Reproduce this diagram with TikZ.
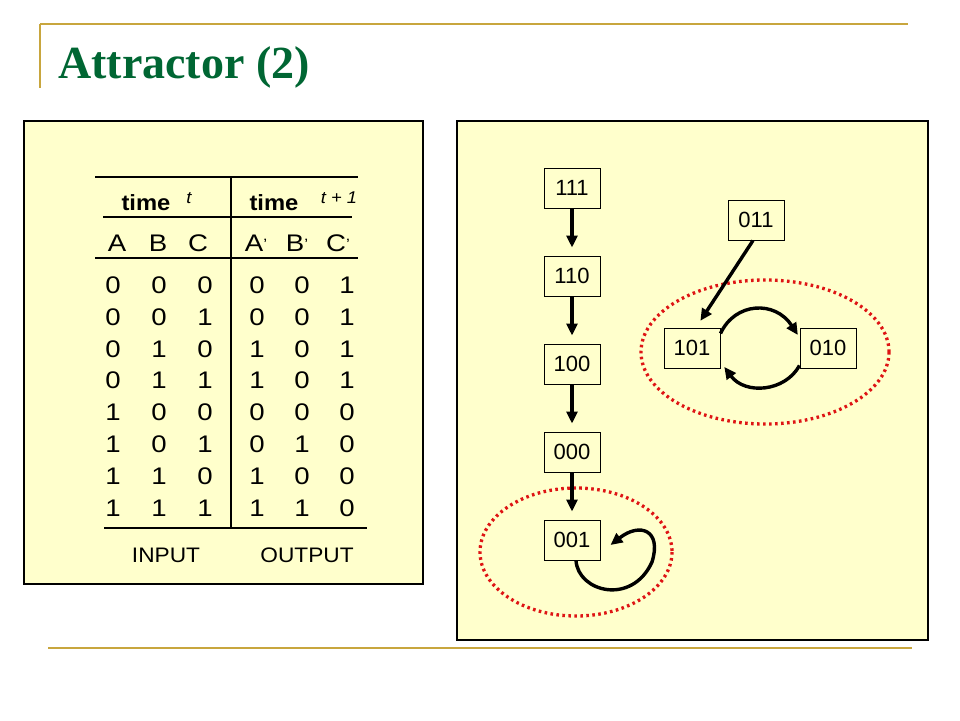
\documentclass[tikz,border=0pt]{standalone}
\usepackage{fontspec}
\setmainfont{Liberation Serif}
\setsansfont{Liberation Sans}
\newfontfamily\tabfont[FakeStretch=1.15]{Liberation Sans}
\newfontfamily\hdfont[FakeStretch=1.08]{Liberation Sans}
\usetikzlibrary{arrows.meta}
\definecolor{gold}{RGB}{200,166,62}
\definecolor{titlegreen}{RGB}{0,102,51}
\definecolor{panel}{RGB}{255,255,204}
\definecolor{dotred}{RGB}{222,20,20}
\newcommand{\pr}{{\fontsize{15}{15}\selectfont\raisebox{1.5pt}{\textquoteright}}}
\tikzset{
  goldline/.style={gold, line width=2.6pt},
  panelbox/.style={draw=black, fill=panel, line width=1.1pt},
  tabtxt/.style={font=\tabfont\fontsize{24}{24}\selectfont, anchor=base, inner sep=0pt},
  headtxt/.style={font=\hdfont\bfseries\fontsize{22}{22}\selectfont, anchor=base, inner sep=0pt},
  ittxt/.style={font=\hdfont\itshape\fontsize{17}{17}\selectfont, anchor=base, inner sep=0pt},
  iotxt/.style={font=\hdfont\fontsize{21}{21}\selectfont, anchor=base, inner sep=0pt},
  tabline/.style={line width=2pt},
  state/.style={draw=black, line width=1pt, minimum width=56pt, minimum height=40pt, inner sep=0pt, font=\sffamily\fontsize{22}{22}\selectfont},
  arr/.style={line width=3.4pt, -{Triangle[length=12pt,width=11pt]}},
  attr/.style={dotred, line width=3.3pt, dash pattern=on 2.6pt off 3.4pt},
}
\begin{document}
\begin{tikzpicture}[x=1pt,y=-1pt]
\useasboundingbox (0,0) rectangle (960,720);
% title decoration
\draw[goldline] (40,24) -- (908,24);
\draw[gold, line width=1.6pt] (40,24) -- (40,88);
\draw[goldline] (48,648) -- (912,648);
\node[anchor=base west, inner sep=0pt, text=titlegreen, font=\bfseries\fontsize{46}{46}\selectfont] (title) at (58,78) {Attractor (2)};
% panels
\draw[panelbox] (24,121) rectangle (423,584);
\draw[panelbox] (457,121) rectangle (928,640);
% table lines
\draw[tabline] (95,177) -- (358,177);
\draw[line width=1.4pt] (103,217) -- (352,217);
\draw[tabline] (95,258) -- (358,258);
\draw[tabline] (104,528) -- (367,528);
\draw[tabline] (231,177) -- (231,528);
% header
\node[headtxt] (h1) at (146,210) {time};
\node[ittxt] (h1t) at (189,203) {t};
\node[headtxt] (h2) at (274,210) {time};
\node[ittxt] (h2t) at (339,203) {t + 1};
\node[tabtxt] (cA) at (117,251) {A};
\node[tabtxt] (cB) at (158,251) {B};
\node[tabtxt] (cC) at (198,251) {C};
\node[tabtxt] (cA2) at (256,251) {A\pr};
\node[tabtxt] (cB2) at (297,251) {B\pr};
\node[tabtxt] (cC2) at (338,251) {C\pr};
% rows
\foreach \r/\a/\b/\c/\d/\e/\f in {0/0/0/0/0/0/1, 1/0/0/1/0/0/1, 2/0/1/0/1/0/1, 3/0/1/1/1/0/1, 4/1/0/0/0/0/0, 5/1/0/1/0/1/0, 6/1/1/0/1/0/0, 7/1/1/1/1/1/0}{
  \pgfmathsetmacro{\yy}{293.5+31.8*\r}
  \node[tabtxt] (r\r a) at (113,\yy) {\a};
  \node[tabtxt] (r\r b) at (159,\yy) {\b};
  \node[tabtxt] (r\r c) at (205,\yy) {\c};
  \node[tabtxt] (r\r d) at (257,\yy) {\d};
  \node[tabtxt] (r\r e) at (302,\yy) {\e};
  \node[tabtxt] (r\r f) at (347,\yy) {\f};
}
\node[iotxt] (inp) at (166,562) {INPUT};
\node[iotxt] (outp) at (307,562) {OUTPUT};
% attractor ellipses
\draw[attr] (576,552) ellipse [x radius=96, y radius=64];
\draw[attr] (765,352) ellipse [x radius=124, y radius=72];
% states
\node[state] (n111) at (572,188) {111};
\node[state] (n110) at (572,276) {110};
\node[state] (n100) at (572,364) {100};
\node[state] (n000) at (572,452) {000};
\node[state] (n001) at (572,540) {001};
\node[state] (n011) at (756,220) {011};
\node[state] (n101) at (692,348) {101};
\node[state] (n010) at (828,348) {010};
% arrows
\draw[arr, shorten >=8pt] (n111) -- (n110);
\draw[arr, shorten >=8pt] (n110) -- (n100);
\draw[arr, shorten >=8pt] (n100) -- (n000);
\draw[arr, shorten >=8pt] (n000) -- (n001);
\draw[arr, shorten >=8pt] ([xshift=-3pt]n011.south) -- ([xshift=4pt]n101.north);
\draw[arr, shorten >=3pt] ([yshift=-6pt]n101.north east) .. controls (735,302) and (775,300) .. ([yshift=-10pt]n010.north west);
\draw[arr, shorten >=3pt] ([yshift=3pt]n010.south west) .. controls (785,392) and (745,395) .. ([xshift=2pt,yshift=4pt]n101.south east);
\draw[arr, shorten >=0pt] ([xshift=4pt]n001.south) .. controls (578,592) and (632,606) .. (652,562) .. controls (662,530) and (640,522) .. ([xshift=10pt,yshift=-5pt]n001.east);
\end{tikzpicture}
\end{document}
